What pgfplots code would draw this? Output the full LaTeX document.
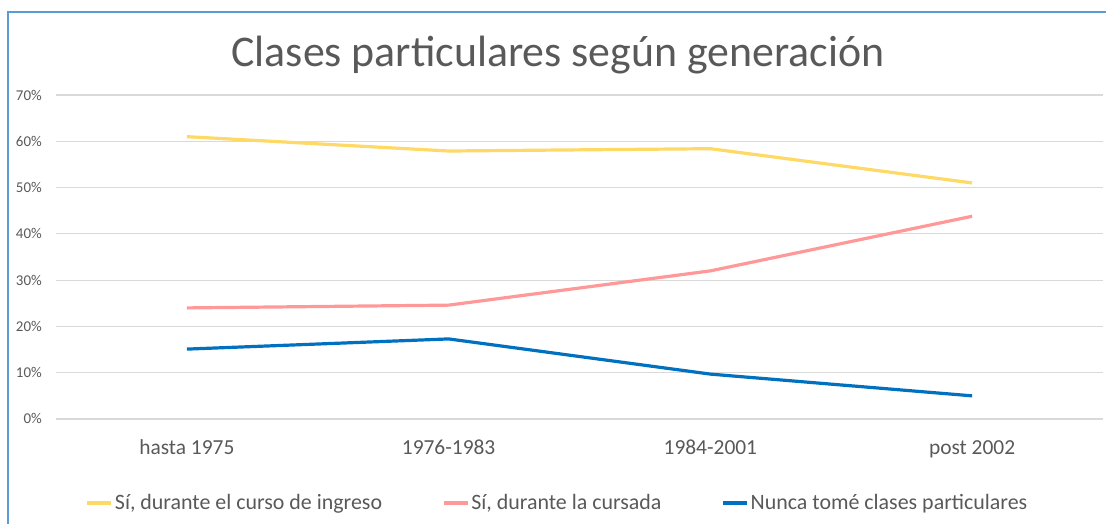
\documentclass[border=0pt]{standalone}
\usepackage{fontspec}
\setmainfont{Carlito}
\usepackage{pgfplots}
\pgfplotsset{compat=1.18}
\definecolor{cyel}{HTML}{FFD966}
\definecolor{cpink}{HTML}{FF9999}
\definecolor{cblue}{HTML}{0070C0}
\definecolor{cgrid}{HTML}{D9D9D9}
\definecolor{ctext}{HTML}{595959}
\definecolor{cframe}{HTML}{5B9BD5}
\begin{document}
\begin{tikzpicture}
\path[use as bounding box] (0bp,0bp) rectangle (1106bp,524bp);
\draw[cframe, line width=1.2bp] (8bp,0bp) -- (8bp,512bp) -- (1106bp,512bp);
\node[text=ctext, font=\fontsize{44}{52}\selectfont, anchor=base] at (558bp,457bp) {Clases particulares según generación};
\begin{axis}[
  at={(56bp,105bp)}, anchor=south west,
  scale only axis, width=1047bp, height=324bp,
  xmin=-0.5, xmax=3.5, ymin=0, ymax=70,
  ytick={0,10,...,70},
  yticklabel={\pgfmathprintnumber{\tick}\%},
  /pgf/number format/assume math mode=true,
  axis line style={draw=none},
  major tick length=0pt,
  ymajorgrids, grid style={cgrid, line width=1.2bp},
  xtick={0,1,2,3},
  xticklabels={hasta 1975, 1976-1983, 1984-2001, post 2002},
  yticklabel style={font=\fontsize{15}{17}\selectfont, text=ctext, anchor=base east, inner sep=0pt, xshift=-14bp, yshift=-5bp},
  xticklabel style={font=\fontsize{21.5}{24}\selectfont, text=ctext, anchor=base, inner sep=0pt, yshift=-36bp},
  legend columns=3,
  legend style={at={(rel axis cs:0.479,-0.259)}, anchor=center, draw=none, fill=none,
    font=\fontsize{22}{25}\selectfont, text=ctext,
    nodes={inner sep=2bp},
    /tikz/every even column/.append style={column sep=58bp}},
  legend image code/.code={\draw[#1] (0bp,0bp) -- (24bp,0bp);},
  every axis plot/.append style={line width=3.2bp, line join=round, no markers},
]
\addplot[cyel] coordinates {(0,61.0) (1,57.9) (2,58.4) (3,51.0)};
\addlegendentry{Sí, durante el curso de ingreso}
\addplot[cpink] coordinates {(0,24.0) (1,24.6) (2,32.0) (3,43.8)};
\addlegendentry{Sí, durante la cursada}
\addplot[cblue] coordinates {(0,15.1) (1,17.3) (2,9.7) (3,5.0)};
\addlegendentry{Nunca tomé clases particulares}
\end{axis}
\end{tikzpicture}
\end{document}
